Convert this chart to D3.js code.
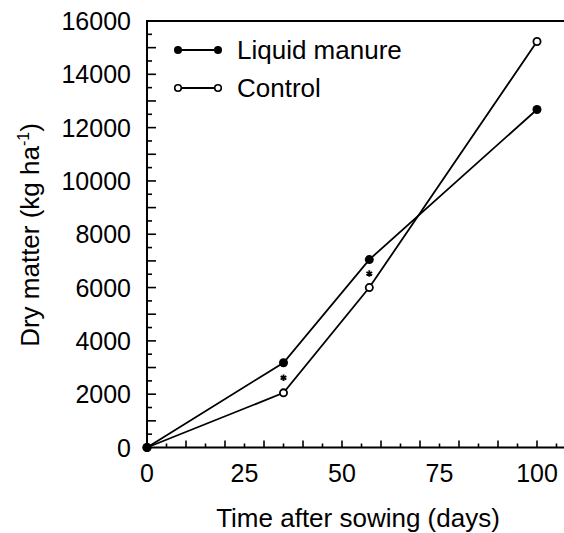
<!DOCTYPE html>
<html>
<head>
<meta charset="utf-8">
<script src="https://cdn.jsdelivr.net/npm/d3@7"></script>
<style>
  html, body { margin: 0; padding: 0; background: #fff; }
  svg { display: block; font-family: "Liberation Sans", Arial, sans-serif; }
</style>
</head>
<body>
<svg id="chart" width="564" height="533"></svg>
<script>
// Dry matter accumulation over the growing season
const days = [0, 35, 57, 100];
const liquidManure = [0, 3180, 7050, 12680];
const control = [0, 2050, 6000, 15230];
const seriesNames = ["Liquid manure", "Control"];
const significantDays = [35, 57];
const xTickLabels = [0, 25, 50, 75, 100];
const yTickLabels = [0, 2000, 4000, 6000, 8000, 10000, 12000, 14000, 16000];

const svg = d3.select("#chart");
const plotLeft = 147, plotRight = 564, plotTop = 21, plotBottom = 447.5;

const x = d3.scaleLinear().domain([0, 100]).range([plotLeft, 537]);
const y = d3.scaleLinear().domain([0, 16000]).range([plotBottom, plotTop]);
const xMax = x.invert(plotRight);

// frame: left axis, top and bottom lines
const frame = svg.append("g").attr("stroke", "#000").attr("stroke-width", 2);
frame.append("line").attr("x1", plotLeft).attr("x2", plotLeft).attr("y1", plotTop - 1).attr("y2", plotBottom + 1);
frame.append("line").attr("x1", plotLeft).attr("x2", plotRight).attr("y1", plotTop).attr("y2", plotTop);
frame.append("line").attr("x1", plotLeft - 1).attr("x2", plotRight).attr("y1", plotBottom).attr("y2", plotBottom);

// inward tick marks
const xMinor = d3.range(5, xMax, 10);
const xMajor = d3.range(10, xMax, 10);
const yMinor = d3.range(500, 16000, 1000);
const yMajor = d3.range(1000, 16000, 1000);
const ticks = svg.append("g").attr("stroke", "#000").attr("stroke-width", 1.6);
ticks.selectAll(".xmin").data(xMinor).join("line")
  .attr("x1", d => x(d)).attr("x2", d => x(d)).attr("y1", plotBottom).attr("y2", plotBottom - 4);
ticks.selectAll(".xmaj").data(xMajor).join("line")
  .attr("x1", d => x(d)).attr("x2", d => x(d)).attr("y1", plotBottom).attr("y2", plotBottom - 7);
ticks.selectAll(".ymin").data(yMinor).join("line")
  .attr("x1", plotLeft).attr("x2", plotLeft + 5).attr("y1", d => y(d)).attr("y2", d => y(d));
ticks.selectAll(".ymaj").data(yMajor).join("line")
  .attr("x1", plotLeft).attr("x2", plotLeft + 9).attr("y1", d => y(d)).attr("y2", d => y(d));

// tick labels
svg.append("g").attr("font-size", 25).attr("text-anchor", "middle")
  .selectAll("text").data(xTickLabels).join("text")
  .attr("x", d => x(d)).attr("y", 482).text(d => d);
svg.append("g").attr("font-size", 25).attr("text-anchor", "end")
  .selectAll("text").data(yTickLabels).join("text")
  .attr("x", 131).attr("y", d => y(d)).attr("dy", "0.36em").text(d => d);

// axis titles
svg.append("text").attr("x", 358).attr("y", 527).attr("font-size", 26)
  .attr("text-anchor", "middle").text("Time after sowing (days)");
const yTitle = svg.append("text").attr("font-size", 26).attr("text-anchor", "middle")
  .attr("transform", "translate(39,235) rotate(-90)");
yTitle.append("tspan").text("Dry matter (kg ha");
yTitle.append("tspan").attr("font-size", 16).attr("dy", -10).text("-1");
yTitle.append("tspan").attr("dy", 10).text(")");

// series
const line = d3.line().x(d => x(d[0])).y(d => y(d[1]));
const lmData = days.map((d, i) => [d, liquidManure[i]]);
const ctData = days.map((d, i) => [d, control[i]]);

svg.append("path").datum(lmData).attr("d", line)
  .attr("fill", "none").attr("stroke", "#000").attr("stroke-width", 1.8);
svg.append("path").datum(ctData).attr("d", line)
  .attr("fill", "none").attr("stroke", "#000").attr("stroke-width", 1.8);

svg.append("g").selectAll("circle").data(ctData).join("circle")
  .attr("cx", d => x(d[0])).attr("cy", d => y(d[1])).attr("r", 3.6)
  .attr("fill", "#fff").attr("stroke", "#000").attr("stroke-width", 1.8);
svg.append("g").selectAll("circle").data(lmData).join("circle")
  .attr("cx", d => x(d[0])).attr("cy", d => y(d[1])).attr("r", 4.5)
  .attr("fill", "#000");

// significance markers between the two series
const star = d3.symbol().type(d3.symbolAsterisk).size(30);
svg.append("g").selectAll("path").data(significantDays).join("path")
  .attr("d", star)
  .attr("transform", d => {
    const i = days.indexOf(d);
    return `translate(${x(d)},${y((liquidManure[i] + control[i]) / 2)})`;
  })
  .attr("fill", "none").attr("stroke", "#000").attr("stroke-width", 1.8);

// legend
const legend = svg.append("g");
const legendRows = [
  { name: seriesNames[0], filled: true, cy: 50 },
  { name: seriesNames[1], filled: false, cy: 88 }
];
legendRows.forEach(r => {
  legend.append("line").attr("x1", 178).attr("x2", 218).attr("y1", r.cy).attr("y2", r.cy)
    .attr("stroke", "#000").attr("stroke-width", 1.8);
  [178, 218].forEach(cx => {
    legend.append("circle").attr("cx", cx).attr("cy", r.cy)
      .attr("r", r.filled ? 4 : 3.3)
      .attr("fill", r.filled ? "#000" : "#fff")
      .attr("stroke", r.filled ? "none" : "#000").attr("stroke-width", 1.6);
  });
  legend.append("text").attr("x", 237).attr("y", r.cy).attr("dy", "0.36em")
    .attr("font-size", 26).text(r.name);
});
</script>
</body>
</html>
